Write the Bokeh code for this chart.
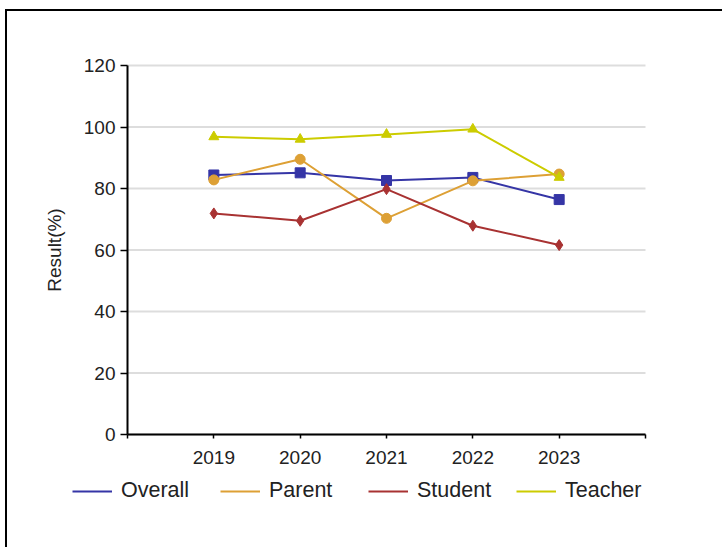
from bokeh.plotting import figure
from bokeh.models import FixedTicker, Legend, LegendItem, Range1d
from bokeh.embed import file_html
from bokeh.resources import INLINE

# Survey results by year
years = [2019, 2020, 2021, 2022, 2023]
overall = [84.4, 85.1, 82.6, 83.6, 76.4]
parent = [82.8, 89.5, 70.3, 82.5, 84.7]
student = [71.9, 69.5, 79.8, 67.9, 61.6]
teacher = [96.8, 96.0, 97.6, 99.3, 83.6]
y_ticks = [0, 20, 40, 60, 80, 100, 120]

series = [
    ("Overall", overall, "#3535A6", "square", 10),
    ("Parent", parent, "#DDA035", "circle", 10),
    ("Student", student, "#A83232", "diamond", 11),
    ("Teacher", teacher, "#CCCC00", "triangle", 10),
]

FONT = "Liberation Sans"
TEXT = "#222222"

# plot area: axes drawn at fixed locations inside a wider frame so the
# legend underneath can sit beside the y axis
X_LO, X_HI = years[0] - 1, years[-1] + 1
Y_LO, Y_HI = y_ticks[0], y_ticks[-1]
W, H = 717, 538
FRAME_L, FRAME_R, FRAME_T, FRAME_B = 13, 717, 20, 529   # frame in canvas px
AX_L, AX_R, AX_T, AX_B = 120, 638, 54, 423              # axes box in canvas px
px_x = (AX_R - AX_L) / (X_HI - X_LO)
px_y = (AX_B - AX_T) / (Y_HI - Y_LO)
x_range = Range1d(X_LO - (AX_L - FRAME_L) / px_x, X_HI + (FRAME_R - AX_R) / px_x)
y_range = Range1d(Y_LO - (FRAME_B - AX_B) / px_y, Y_HI + (AX_T - FRAME_T) / px_y)

p = figure(
    width=W, height=H,
    output_backend="svg", toolbar_location=None,
    x_range=x_range, y_range=y_range,
    min_border_left=FRAME_L, min_border_right=W - FRAME_R,
    min_border_top=FRAME_T, min_border_bottom=H - FRAME_B,
)
p.styles = {
    "margin-top": "9px", "margin-left": "5px",
    "border-top": "2px solid black", "border-left": "2px solid black",
}
p.outline_line_color = None
p.background_fill_color = "white"
p.border_fill_color = "white"
p.xgrid.grid_line_color = None
p.ygrid.grid_line_color = None

# horizontal grid lines across the axes box
p.segment(x0=[X_LO] * len(y_ticks), x1=[X_HI] * len(y_ticks),
          y0=y_ticks, y1=y_ticks, line_color="#dddddd", line_width=2)

# axes
p.xaxis.fixed_location = Y_LO
p.xaxis.bounds = (X_LO, X_HI)
p.yaxis.fixed_location = X_LO
p.yaxis.bounds = (Y_LO, Y_HI)
p.xaxis.ticker = FixedTicker(ticks=[X_LO] + years + [X_HI])
p.xaxis.major_label_overrides = {X_LO: "", X_HI: ""}
p.yaxis.ticker = FixedTicker(ticks=y_ticks)
for ax in (p.xaxis, p.yaxis):
    ax.axis_line_color = "black"
    ax.axis_line_width = 2
    ax.major_tick_line_color = "black"
    ax.major_tick_line_width = 1.5
    ax.minor_tick_line_color = None
    ax.major_tick_in = 0
    ax.major_label_text_font = FONT
    ax.major_label_text_font_size = "19px"
    ax.major_label_text_color = TEXT
p.xaxis.major_tick_out = 4
p.yaxis.major_tick_out = 7
p.xaxis.major_label_standoff = 12
p.yaxis.major_label_standoff = 5
p.yaxis.axis_label = "Result(%)"
p.yaxis.axis_label_text_font = FONT
p.yaxis.axis_label_text_font_size = "19px"
p.yaxis.axis_label_text_font_style = "normal"
p.yaxis.axis_label_text_color = TEXT
p.yaxis.axis_label_standoff = 16

items = []
for name, vals, color, marker, size in series:
    ln = p.line(years, vals, line_color=color, line_width=2)
    p.scatter(years, vals, marker=marker, size=size,
              fill_color=color, line_color=color)
    items.append(LegendItem(label=name, renderers=[ln]))

legend = Legend(
    items=items, orientation="horizontal", location=(52, 37),
    label_text_font=FONT, label_text_font_size="21.5px", label_text_color=TEXT,
    glyph_width=40, label_standoff=9, label_width=99, spacing=0,
    padding=0, margin=0,
    border_line_color=None, background_fill_alpha=0,
)
p.add_layout(legend, "center")

open("out.html", "w").write(file_html(p, INLINE))
